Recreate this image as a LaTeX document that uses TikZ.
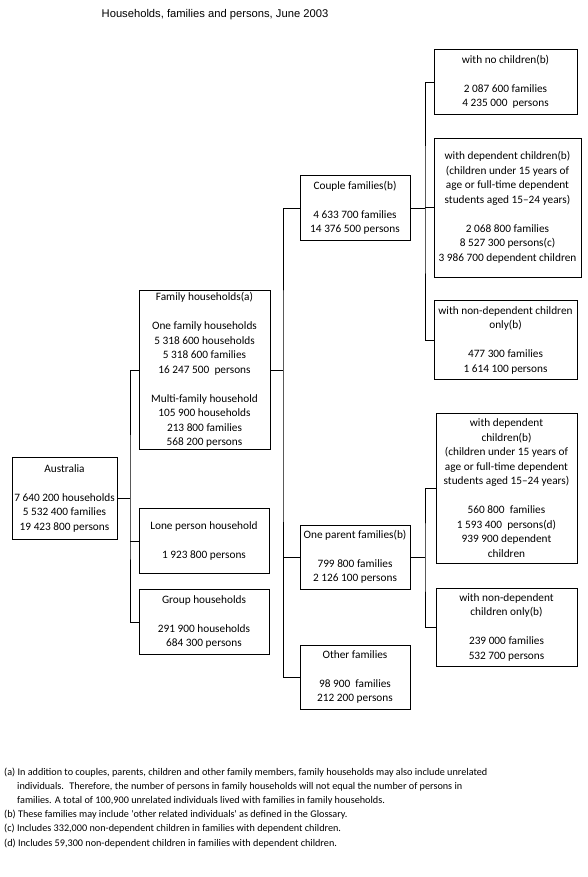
\documentclass[tikz,border=0pt]{standalone}
\usepackage{fontspec}
\setmainfont{Carlito}
\newfontfamily\titlefont{Liberation Sans}
\begin{document}
\begin{tikzpicture}[x=1pt,y=-1pt,
  box/.style={draw, line width=0.8pt, align=center, inner sep=0pt,
    font=\fontsize{11.3}{14.5}\selectfont},
  conn/.style={line width=0.8pt}]
\useasboundingbox (0,0) rectangle (588,877);

\node[anchor=base, font=\titlefont\fontsize{11.2}{13}\selectfont] (title) at (215,18) {Households, families and persons, June 2003};

% level 0
\node[box, minimum width=105pt, minimum height=82pt] (aus) at (64.5,498)
  {Australia\\[14.5pt]7 640 200 households\\5 532 400 families\\19 423 800 persons};

% level 1
\node[box, minimum width=131pt, minimum height=159pt] (fam) at (204.5,370)
  {Family households(a)\\[14.5pt]One family households\\5 318 600 households\\5 318 600 families\\16 247 500 \ persons\\[14.5pt]Multi-family household\\105 900 households\\213 800 families\\568 200 persons};
\node[box, minimum width=130pt, minimum height=65pt] (lone) at (204,541)
  {Lone person household\\[14.5pt]1 923 800 persons};
\node[box, minimum width=130pt, minimum height=65pt] (grp) at (204,622)
  {Group households\\[14.5pt]291 900 households\\684 300 persons};

% level 2
\node[box, minimum width=110pt, minimum height=65pt] (cpl) at (355,208)
  {Couple families(b)\\[14.5pt]4 633 700 families\\14 376 500 persons};
\node[box, minimum width=110pt, minimum height=64pt] (op) at (355,557)
  {One parent families(b)\\[14.5pt]799 800 families\\2 126 100 persons};
\node[box, minimum width=110pt, minimum height=64pt] (oth) at (355,677)
  {Other families\\[14.5pt]98 900 \ families\\212 200 persons};

% level 3
\node[box, minimum width=143pt, minimum height=65pt] (nok) at (505.5,82)
  {with no children(b)\\[14.5pt]2 087 600 families\\4 235 000 \ persons};
\node[box, minimum width=147pt, minimum height=139pt] (dep) at (507.5,207.5)
  {with dependent children(b)\\(children under 15 years of\\age or full-time dependent\\students aged 15–24 years)\\[14.5pt]2 068 800 families\\8 527 300 persons(c)\\3 986 700 dependent children};
\node[box, minimum width=143pt, minimum height=79pt] (nd) at (505.5,340)
  {with non-dependent children\\only(b)\\[14.5pt]477 300 families\\1 614 100 persons};
\node[box, minimum width=141pt, minimum height=150pt] (opdep) at (506.5,488)
  {with dependent\\children(b)\\(children under 15 years of\\age or full-time dependent\\students aged 15–24 years)\\[14.5pt]560 800 \ families\\1 593 400 \ persons(d)\\939 900 dependent\\children};
\node[box, minimum width=141pt, minimum height=78pt] (opnd) at (506.5,627)
  {with non-dependent\\children only(b)\\[14.5pt]239 000 families\\532 700 persons};

% junctions
\coordinate (j1) at (130,498);
\coordinate (j2) at (283,370);
\coordinate (j3) at (425,208);
\coordinate (j4) at (425,557);

\draw[conn] (aus.east) -- (j1);
\draw[conn] (fam.west) -| (j1) |- (grp.west);
\draw[conn] (lone.west) -- (lone.west -| j1);

\draw[conn] (fam.east) -- (fam.east -| j2);
\draw[conn] (cpl.west) -| (j2) |- (oth.west);
\draw[conn] (op.west) -- (op.west -| j2);

\draw[conn] (cpl.east) -- (cpl.east -| j3);
\draw[conn] (nok.west) -| (j3) |- (nd.west);
\draw[conn] (dep.west) -- (dep.west -| j3);

\draw[conn] (op.east) -- (op.east -| j4);
\draw[conn] (opdep.west) -| (j4) |- (opnd.west);

% footnotes
\node[anchor=north west, align=left, inner sep=0pt,
  font=\fontsize{10.2}{14.2}\selectfont] (notes) at (4,767.5)
  {(a) In addition to couples, parents, children and other family members, family households may also include unrelated\\
   \hspace*{13pt}individuals. \ Therefore, the number of persons in family households will not equal the number of persons in\\
   \hspace*{13pt}families. A total of 100,900 unrelated individuals lived with families in family households.\\
   (b) These families may include \textquotesingle other related individuals\textquotesingle\ as defined in the Glossary.\\
   (c) Includes 332,000 non-dependent children in families with dependent children.\\
   (d) Includes 59,300 non-dependent children in families with dependent children.};
\end{tikzpicture}
\end{document}
